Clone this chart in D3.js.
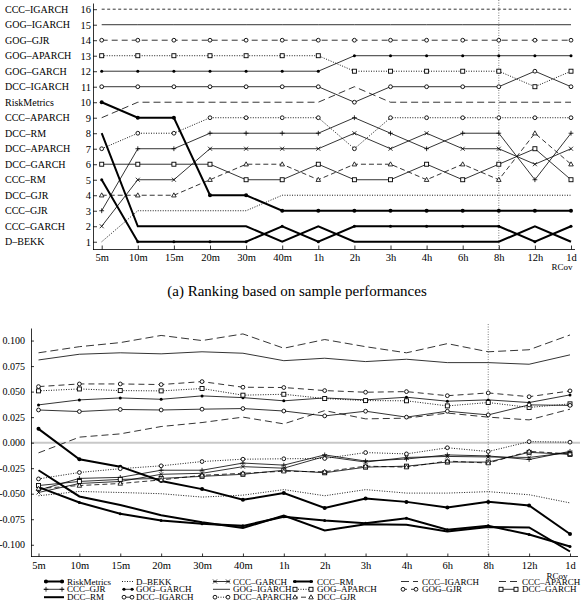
<!DOCTYPE html>
<html>
<head>
<meta charset="utf-8">
<script src="https://cdnjs.cloudflare.com/ajax/libs/d3/7.8.5/d3.min.js"></script>
<style>
  body { margin: 0; background: #fff; }
  svg text { font-family: "Liberation Serif", "DejaVu Serif", serif; fill: #000; }
</style>
</head>
<body>
<div id="chart"></div>
<script>
// sampling frequencies (x axis)
var freqs = ["5m", "10m", "15m", "20m", "30m", "40m", "1h", "2h", "3h", "4h", "6h", "8h", "12h", "1d"];

// models in legend order
var models = ["RiskMetrics", "D-BEKK", "CCC-GARCH", "CCC-RM", "CCC-IGARCH", "CCC-APARCH",
  "CCC-GJR", "GOG-GARCH", "GOG-IGARCH", "GOG-APARCH", "GOG-GJR", "DCC-GARCH",
  "DCC-RM", "DCC-IGARCH", "DCC-APARCH", "DCC-GJR"];

// (a) rankings
var rankRiskMetrics = [10, 9, 9, 4, 4, 3, 3, 3, 3, 3, 3, 3, 3, 3];
var rankDBEKK       = [1, 3, 3, 3, 3, 4, 4, 4, 4, 4, 4, 4, 4, 4];
var rankCCCGARCH    = [2, 5, 5, 7, 7, 7, 7, 8, 7, 8, 7, 7, 6, 7];
var rankCCCRM       = [5, 1, 1, 1, 1, 2, 1, 2, 2, 2, 2, 2, 1, 2];
var rankCCCIGARCH   = [16, 16, 16, 16, 16, 16, 16, 16, 16, 16, 16, 16, 16, 16];
var rankCCCAPARCH   = [9, 10, 10, 10, 10, 10, 10, 11, 10, 10, 10, 10, 10, 10];
var rankCCCGJR      = [3, 7, 7, 8, 8, 8, 8, 9, 8, 7, 8, 8, 5, 8];
var rankGOGGARCH    = [12, 12, 12, 12, 12, 12, 12, 13, 13, 13, 13, 13, 13, 13];
var rankGOGIGARCH   = [15, 15, 15, 15, 15, 15, 15, 15, 15, 15, 15, 15, 15, 15];
var rankGOGAPARCH   = [13, 13, 13, 13, 13, 13, 13, 12, 12, 12, 12, 12, 11, 12];
var rankGOGGJR      = [14, 14, 14, 14, 14, 14, 14, 14, 14, 14, 14, 14, 14, 14];
var rankDCCGARCH    = [6, 6, 6, 6, 5, 5, 6, 5, 5, 6, 5, 6, 7, 5];
var rankDCCRM       = [8, 2, 2, 2, 2, 1, 2, 1, 1, 1, 1, 1, 2, 1];
var rankDCCIGARCH   = [11, 11, 11, 11, 11, 11, 11, 10, 11, 11, 11, 11, 12, 11];
var rankDCCAPARCH   = [7, 8, 8, 9, 9, 9, 9, 7, 9, 9, 9, 9, 9, 9];
var rankDCCGJR      = [4, 4, 4, 5, 6, 6, 5, 6, 6, 5, 6, 5, 8, 6];

// (b) values
var valRiskMetrics = [0.0135, -0.0162, -0.0235, -0.0375, -0.0455, -0.056, -0.0494, -0.064, -0.0547, -0.058, -0.0635, -0.058, -0.0615, -0.0895];
var valDBEKK       = [-0.052, -0.0478, -0.0488, -0.050, -0.0533, -0.0514, -0.046, -0.052, -0.046, -0.0494, -0.0494, -0.048, -0.051, -0.059];
var valCCCGARCH    = [-0.0488, -0.040, -0.038, -0.031, -0.030, -0.0235, -0.025, -0.0135, -0.019, -0.0145, -0.0135, -0.014, -0.0145, -0.0095];
var valCCCRM       = [-0.0435, -0.0586, -0.0697, -0.0762, -0.0795, -0.0815, -0.0725, -0.0762, -0.079, -0.074, -0.0853, -0.0815, -0.090, -0.1017];
var valCCCIGARCH   = [0.088, 0.094, 0.098, 0.105, 0.100, 0.1065, 0.0925, 0.101, 0.094, 0.088, 0.097, 0.089, 0.091, 0.1055];
var valCCCAPARCH   = [-0.010, 0.0054, 0.0086, 0.0158, 0.0197, 0.025, 0.0184, 0.0314, 0.0233, 0.024, 0.029, 0.025, 0.0223, 0.0328];
var valCCCGJR      = [-0.0465, -0.035, -0.034, -0.027, -0.027, -0.020, -0.022, -0.012, -0.018, -0.016, -0.012, -0.013, -0.0165, -0.0085];
var valGOGGARCH    = [0.037, 0.0419, 0.0438, 0.0425, 0.0458, 0.0441, 0.041, 0.0438, 0.0419, 0.0445, 0.0406, 0.0419, 0.0393, 0.0468];
var valGOGIGARCH   = [0.081, 0.0866, 0.088, 0.087, 0.089, 0.0876, 0.0803, 0.0827, 0.0794, 0.0817, 0.0784, 0.0784, 0.0768, 0.086];
var valGOGAPARCH   = [0.0507, 0.0526, 0.051, 0.0507, 0.053, 0.0465, 0.0474, 0.0432, 0.0412, 0.041, 0.036, 0.0393, 0.0345, 0.038];
var valGOGGJR      = [0.0549, 0.0575, 0.0575, 0.0569, 0.0598, 0.0543, 0.054, 0.051, 0.0494, 0.050, 0.046, 0.0487, 0.045, 0.0507];
var valDCCGARCH    = [-0.042, -0.038, -0.036, -0.035, -0.033, -0.031, -0.027, -0.0295, -0.024, -0.023, -0.019, -0.019, -0.0095, -0.0115];
var valDCCRM       = [-0.027, -0.0527, -0.061, -0.071, -0.078, -0.0835, -0.0715, -0.086, -0.080, -0.0805, -0.087, -0.0827, -0.083, -0.1066];
var valDCCIGARCH   = [0.032, 0.0305, 0.0325, 0.032, 0.0328, 0.0334, 0.031, 0.0262, 0.0308, 0.025, 0.0308, 0.0272, 0.037, 0.0365];
var valDCCAPARCH   = [-0.0355, -0.0292, -0.0255, -0.0227, -0.0185, -0.0162, -0.0158, -0.0155, -0.0097, -0.011, -0.005, -0.0087, 0.001, 0.0005];
var valDCCGJR      = [-0.045, -0.042, -0.040, -0.0365, -0.032, -0.030, -0.028, -0.0285, -0.023, -0.024, -0.018, -0.020, -0.0085, -0.011];

var yTicksB = [-0.1, -0.075, -0.05, -0.025, 0, 0.025, 0.05, 0.075, 0.1];

var ranks = [rankRiskMetrics, rankDBEKK, rankCCCGARCH, rankCCCRM, rankCCCIGARCH, rankCCCAPARCH,
  rankCCCGJR, rankGOGGARCH, rankGOGIGARCH, rankGOGAPARCH, rankGOGGJR, rankDCCGARCH,
  rankDCCRM, rankDCCIGARCH, rankDCCAPARCH, rankDCCGJR];
var vals = [valRiskMetrics, valDBEKK, valCCCGARCH, valCCCRM, valCCCIGARCH, valCCCAPARCH,
  valCCCGJR, valGOGGARCH, valGOGIGARCH, valGOGAPARCH, valGOGGJR, valDCCGARCH,
  valDCCRM, valDCCIGARCH, valDCCAPARCH, valDCCGJR];

// line style per model: width, dasharray (top / bottom panel), marker
var styles = {
  "RiskMetrics": {w: 2, dash: null, m: "dot"},
  "D-BEKK":      {w: 0.9, dash: "1,1.5", m: null},
  "CCC-GARCH":   {w: 0.8, dash: null, m: "x"},
  "CCC-RM":      {w: 2, dash: null, m: "sdot"},
  "CCC-IGARCH":  {w: 0.8, dash: "3,2.5", dashB: "8,4", m: null},
  "CCC-APARCH":  {w: 0.8, dash: "7,4", m: null},
  "CCC-GJR":     {w: 0.8, dash: null, m: "plus"},
  "GOG-GARCH":   {w: 0.8, dash: null, m: "sdot"},
  "GOG-IGARCH":  {w: 0.8, dash: null, m: null},
  "GOG-APARCH":  {w: 0.9, dash: "1,1.5", m: "square"},
  "GOG-GJR":     {w: 0.8, dash: "6,4", m: "circle"},
  "DCC-GARCH":   {w: 0.8, dash: null, m: "square"},
  "DCC-RM":      {w: 2, dash: null, m: null},
  "DCC-IGARCH":  {w: 0.8, dash: null, m: "circle"},
  "DCC-APARCH":  {w: 0.9, dash: "1,1.5", m: "circle"},
  "DCC-GJR":     {w: 0.8, dash: "5,3", m: "triangle"}
};

var series = models.map(function(name, i) {
  return {name: name, rank: ranks[i], val: vals[i], st: styles[name]};
});

var svg = d3.select("#chart").append("svg")
  .attr("width", 582)
  .attr("height", 607);

// upper-case names with a long dash, as in the figure
function label(s) {
  if (s === "RiskMetrics") return s;
  return s.toUpperCase().replace(/-/g, "\u2013");
}

function marker(g, type, x, y) {
  if (!type) return;
  var c = "#000";
  if (type === "dot") {
    g.append("circle").attr("cx", x).attr("cy", y).attr("r", 2).attr("fill", c);
  } else if (type === "sdot") {
    g.append("circle").attr("cx", x).attr("cy", y).attr("r", 1.5).attr("fill", c);
  } else if (type === "circle") {
    g.append("circle").attr("cx", x).attr("cy", y).attr("r", 1.9)
      .attr("fill", "#fff").attr("stroke", c).attr("stroke-width", 0.9);
  } else if (type === "square") {
    g.append("rect").attr("x", x - 2).attr("y", y - 2).attr("width", 4).attr("height", 4)
      .attr("fill", "#fff").attr("stroke", c).attr("stroke-width", 0.9);
  } else if (type === "triangle") {
    g.append("path").attr("d", `M${x},${y - 2.4}L${x + 2.3},${y + 1.7}L${x - 2.3},${y + 1.7}Z`)
      .attr("fill", "#fff").attr("stroke", c).attr("stroke-width", 0.8);
  } else if (type === "x") {
    g.append("path").attr("d", `M${x - 2},${y - 2}L${x + 2},${y + 2}M${x - 2},${y + 2}L${x + 2},${y - 2}`)
      .attr("stroke", c).attr("stroke-width", 0.8);
  } else if (type === "plus") {
    g.append("path").attr("d", `M${x - 2.4},${y}L${x + 2.4},${y}M${x},${y - 2.4}L${x},${y + 2.4}`)
      .attr("stroke", c).attr("stroke-width", 0.8);
  }
}

function drawSeries(g, key, x, y, bottom) {
  var line = d3.line()
    .x((d, i) => x(i))
    .y(d => y(d));
  series.forEach(function(s) {
    g.append("path")
      .datum(s[key])
      .attr("fill", "none")
      .attr("stroke", "#000")
      .attr("stroke-width", s.st.w)
      .attr("stroke-dasharray", bottom && s.st.dashB ? s.st.dashB : s.st.dash)
      .attr("d", line);
  });
  series.forEach(function(s) {
    s[key].forEach(function(d, i) { marker(g, s.st.m, x(i), y(d)); });
  });
}

function styleAxis(g, size) {
  g.attr("font-family", null);
  g.selectAll("text").style("font-size", size);
  g.selectAll("line,path").attr("stroke-width", 0.8);
}

// ---------- (a) ranking panel ----------
var xA = d3.scaleLinear().domain([0, 13]).range([101.7, 571]);
var yA = d3.scaleLinear().domain([0.5, 16.4]).range([249.5, 3]);

var gA = svg.append("g");

// 8h marker line
gA.append("line")
  .attr("x1", xA(11)).attr("x2", xA(11))
  .attr("y1", 0).attr("y2", yA(0.5))
  .attr("stroke", "#444").attr("stroke-width", 0.7)
  .attr("stroke-dasharray", "1,1.5");

drawSeries(gA, "rank", xA, yA, false);

gA.append("g")
  .attr("transform", "translate(93,0)")
  .call(d3.axisLeft(yA).tickValues(d3.range(1, 17)).tickSize(-4).tickPadding(2).tickSizeOuter(0))
  .call(g => styleAxis(g, "10.5px"));

gA.append("g")
  .attr("transform", `translate(0,${yA(0.5)})`)
  .call(d3.axisBottom(xA).tickValues(d3.range(14)).tickFormat(i => freqs[i]).tickSize(-4).tickPadding(4).tickSizeOuter(0))
  .call(g => g.select(".domain").attr("d", "M93,0H575"))
  .call(g => styleAxis(g, "10.5px"));

// model names at their 5m rank
gA.append("g").selectAll("text")
  .data(series)
  .join("text")
  .attr("x", 5)
  .attr("y", d => yA(d.rank[0]) + 3.5)
  .style("font-size", "10px")
  .text(d => label(d.name));

gA.append("text")
  .attr("x", 562).attr("y", 270)
  .attr("text-anchor", "middle")
  .style("font-size", "9px")
  .text("RCov");

svg.append("text")
  .attr("x", 297).attr("y", 296)
  .attr("text-anchor", "middle")
  .style("font-size", "15px")
  .text("(a) Ranking based on sample performances");

// ---------- (b) values panel ----------
var xB = d3.scaleLinear().domain([0, 13]).range([38.5, 570]);
var yB = d3.scaleLinear().domain([-0.1115, 0.1123]).range([556.5, 328]);

var gB = svg.append("g");

gB.append("line")
  .attr("x1", 31).attr("x2", 580)
  .attr("y1", yB(0)).attr("y2", yB(0))
  .attr("stroke", "#c8c8c8").attr("stroke-width", 2);

gB.append("line")
  .attr("x1", xB(11)).attr("x2", xB(11))
  .attr("y1", 324).attr("y2", yB(-0.1115))
  .attr("stroke", "#444").attr("stroke-width", 0.7)
  .attr("stroke-dasharray", "1,1.5");

drawSeries(gB, "val", xB, yB, true);

gB.append("g")
  .attr("transform", "translate(31,0)")
  .call(d3.axisLeft(yB).tickValues(yTicksB).tickFormat(d => d3.format(".3f")(d).replace("\u2212", "-"))
    .tickSize(-3).tickPadding(6).tickSizeOuter(0))
  .call(g => styleAxis(g, "10px"));

gB.append("g")
  .attr("transform", `translate(0,${yB(-0.1115)})`)
  .call(d3.axisBottom(xB).tickValues(d3.range(14)).tickFormat(i => freqs[i]).tickSize(-3).tickPadding(5).tickSizeOuter(0))
  .call(g => g.select(".domain").attr("d", "M31,0H578"))
  .call(g => styleAxis(g, "10.5px"));

gB.append("text")
  .attr("x", 557).attr("y", 579)
  .attr("text-anchor", "middle")
  .style("font-size", "9px")
  .text("RCov");

// legend, 6 columns: line start, line end, text x
var legX = [[44, 64, 67], [122, 134, 136], [213, 230, 233], [293, 313, 317], [401, 418, 422], [499, 518, 522]];
var legY = [581.5, 589.3, 597.2];

var gL = svg.append("g");
series.forEach(function(s, i) {
  var col = i % 6, row = Math.floor(i / 6);
  var c = legX[col], yy = legY[row];
  gL.append("line")
    .attr("x1", c[0]).attr("x2", c[1])
    .attr("y1", yy).attr("y2", yy)
    .attr("stroke", "#000")
    .attr("stroke-width", s.st.w)
    .attr("stroke-dasharray", s.st.dashB || s.st.dash);
  marker(gL, s.st.m, c[0] + 2, yy);
  marker(gL, s.st.m, c[1] - 2, yy);
  gL.append("text")
    .attr("x", c[2]).attr("y", yy + 3)
    .style("font-size", "9px")
    .text(label(s.name));
});
</script>
</body>
</html>
